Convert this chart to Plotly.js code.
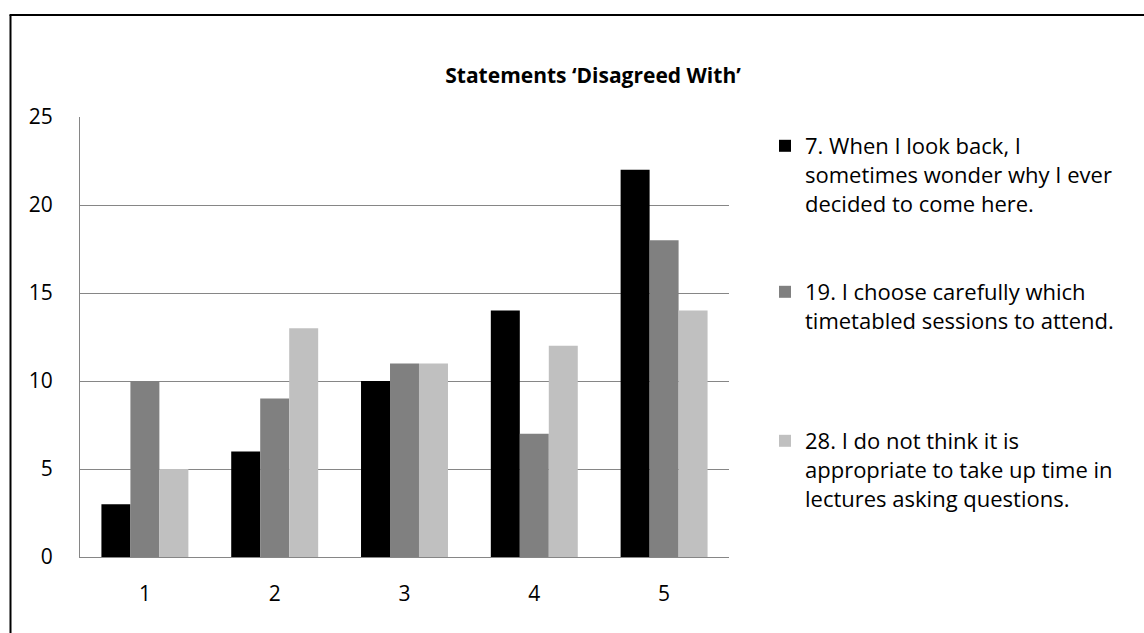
<!DOCTYPE html>
<html>
<head>
<meta charset="utf-8">
<script src="https://cdn.plot.ly/plotly-3.0.1.min.js"></script>
<style>html,body{margin:0;padding:0;background:#fff;}#chart{width:1144px;height:633px;}</style>
</head>
<body>
<div id="chart"></div>
<script>
const categories = ['1', '2', '3', '4', '5'];
const s7 = [3, 6, 10, 14, 22];
const s19 = [10, 9, 11, 7, 18];
const s28 = [5, 13, 11, 12, 14];
const names = [
  '7. When I look back, I<br>sometimes wonder why I ever<br>decided to come here.',
  '19. I choose carefully which<br>timetabled sessions to attend.',
  '28. I do not think it is<br>appropriate to take up time in<br>lectures asking questions.'
];
const yTicks = [0, 5, 10, 15, 20, 25];

const FONT = '"Open Sans", "Noto Sans", sans-serif';
const L = 80, R = 729, T = 117, B = 557, W = 1144, H = 633;
const px = x => (x - L) / (R - L);
const py = y => (B - y) / (B - T);

const traces = [
  {type: 'bar', x: categories, y: s7, name: names[0], marker: {color: '#000000'}, legend: 'legend'},
  {type: 'bar', x: categories, y: s19, name: names[1], marker: {color: '#808080'}, legend: 'legend2'},
  {type: 'bar', x: categories, y: s28, name: names[2], marker: {color: '#c0c0c0'}, legend: 'legend3'}
];

const legBase = {
  xref: 'paper', yref: 'paper', xanchor: 'left', yanchor: 'top', valign: 'top',
  font: {family: FONT, size: 22, color: '#000'}, bgcolor: 'rgba(0,0,0,0)', borderwidth: 0
};

const layout = {
  width: W, height: H,
  margin: {l: L, r: W - R, t: T, b: H - B, pad: 0},
  paper_bgcolor: '#ffffff', plot_bgcolor: '#ffffff',
  font: {family: FONT, size: 21, color: '#000'},
  title: {text: '<b>Statements ‘Disagreed With’</b>', font: {family: FONT, size: 21, color: '#000'},
          xref: 'container', x: 593 / W, xanchor: 'center', yref: 'container', y: 1 - 76 / H, yanchor: 'middle'},
  barmode: 'group', bargap: 0.33, bargroupgap: 0,
  showlegend: true,
  legend: Object.assign({}, legBase, {x: px(765), y: py(125)}),
  legend2: Object.assign({}, legBase, {x: px(765), y: py(271)}),
  legend3: Object.assign({}, legBase, {x: px(765), y: py(420)}),
  xaxis: {type: 'category', showgrid: false, showline: true, linecolor: '#868686', linewidth: 1,
          ticks: '', tickfont: {family: FONT, size: 21, color: '#000'}, ticklabelstandoff: 18, fixedrange: true},
  yaxis: {range: [0, 25], tickvals: yTicks, showgrid: true, gridcolor: '#868686', gridwidth: 1,
          showline: true, linecolor: '#868686', linewidth: 1, zeroline: false, ticks: '',
          tickfont: {family: FONT, size: 21, color: '#000'}, ticklabelstandoff: 22, fixedrange: true},
  shapes: [
    {type: 'line', xref: 'paper', yref: 'paper', x0: px(10.5), x1: px(10.5), y0: py(15), y1: py(H + 5),
     line: {color: '#000', width: 2}},
    {type: 'line', xref: 'paper', yref: 'paper', x0: px(9.5), x1: px(W + 5), y0: py(15), y1: py(15),
     line: {color: '#000', width: 2}}
  ]
};

Plotly.newPlot('chart', traces, layout, {displayModeBar: false, staticPlot: true});
</script>
</body>
</html>
